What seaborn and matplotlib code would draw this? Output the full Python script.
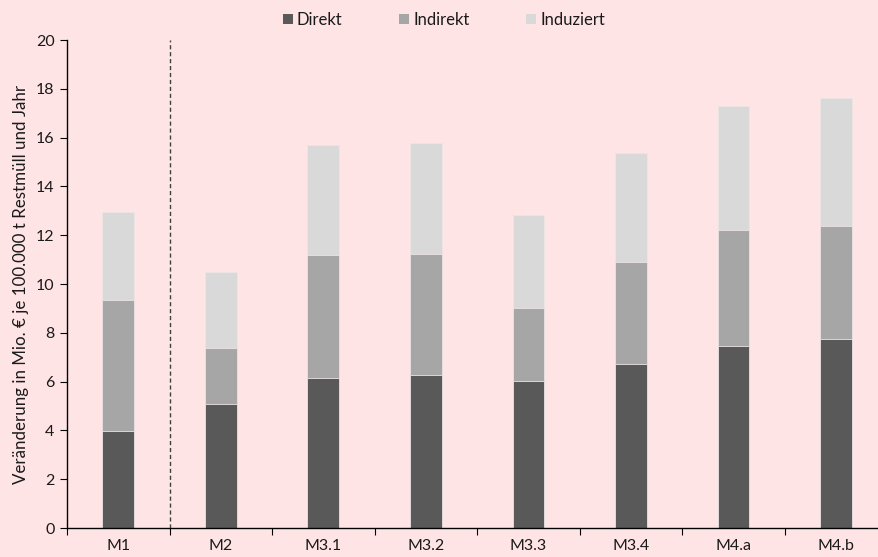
import matplotlib
matplotlib.use("Agg")
import matplotlib.pyplot as plt
from matplotlib.patches import Patch
from matplotlib.ticker import FixedLocator
import seaborn as sns
import numpy as np
import pandas as pd

categories = ["M1", "M2", "M3.1", "M3.2", "M3.3", "M3.4", "M4.a", "M4.b"]
direkt = [3.97, 5.08, 6.15, 6.27, 6.02, 6.72, 7.46, 7.75]
indirekt = [5.37, 2.30, 5.04, 4.96, 3.00, 4.18, 4.75, 4.63]
induziert = [3.61, 3.12, 4.51, 4.55, 3.81, 4.47, 5.09, 5.24]
series_names = ["Direkt", "Indirekt", "Induziert"]
colors = ["#595959", "#A6A6A6", "#D9D9D9"]
y_ticks = [0, 2, 4, 6, 8, 10, 12, 14, 16, 18, 20]
y_label = "Veränderung in Mio. € je 100.000 t Restmüll und Jahr"

bg = "#FFE4E6"
sns.set_theme(style="white")
plt.rcParams["font.family"] = ["Lato", "DejaVu Sans"]

df = pd.DataFrame({"cat": categories, "d": direkt, "i": indirekt, "u": induziert})
df["di"] = df["d"] + df["i"]
df["tot"] = df["di"] + df["u"]

fig = plt.figure(figsize=(8.79, 5.57), dpi=100, facecolor=bg)
ax = fig.add_axes([0.0762, 0.052, 0.924, 0.876])
ax.set_facecolor(bg)

w = 0.31
edge = dict(edgecolor="#EDE4E4", linewidth=0.6)
sns.barplot(data=df, x="cat", y="tot", color=colors[2], width=w, ax=ax, saturation=1, **edge)
sns.barplot(data=df, x="cat", y="di", color=colors[1], width=w, ax=ax, saturation=1, **edge)
sns.barplot(data=df, x="cat", y="d", color=colors[0], width=w, ax=ax, saturation=1, **edge)

ax.plot([0.5, 0.5], [0, 20], linestyle=(0, (3, 2)), color="#404040", lw=1.0, zorder=5)

ax.set_xlim(-0.5, 7.42)
ax.set_ylim(0, 20)
ax.set_yticks(y_ticks)
ax.set_xlabel("")
ax.set_ylabel(y_label, fontsize=12.2, color="#1a1a1a", labelpad=5)

for s in ["top", "right"]:
    ax.spines[s].set_visible(False)
for s in ["left", "bottom"]:
    ax.spines[s].set_color("black")
    ax.spines[s].set_linewidth(1.0)

ax.tick_params(axis="y", which="major", direction="out", length=5, width=0.8,
               color="black", labelsize=11.5, labelcolor="#1a1a1a", left=True, pad=4)
ax.tick_params(axis="x", which="major", length=0, labelsize=11.5, labelcolor="#1a1a1a", pad=8)
ax.xaxis.set_minor_locator(FixedLocator(np.arange(-0.5, 7.6, 1.0)))
ax.tick_params(axis="x", which="minor", direction="out", length=5, width=0.8,
               color="black", bottom=True)
ax.grid(False)

handles = [Patch(facecolor=c, edgecolor="none", label=n) for c, n in zip(colors, series_names)]
fig.legend(handles=handles, loc="center", bbox_to_anchor=(0.505, 0.964), ncol=3,
           frameon=False, fontsize=12, handlelength=0.6, handleheight=0.6,
           handletextpad=0.25, columnspacing=3.4, labelcolor="#1a1a1a")

fig.savefig("out.png", dpi=100, facecolor=bg)
